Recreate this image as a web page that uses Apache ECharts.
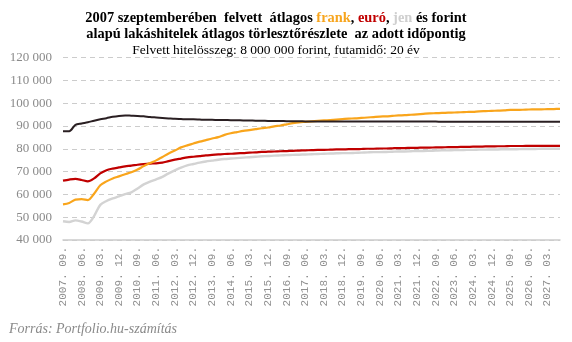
<!DOCTYPE html>
<html>
<head>
<meta charset="utf-8">
<script src="https://cdn.jsdelivr.net/npm/echarts@6/dist/echarts.min.js"></script>
<style>
html,body{margin:0;padding:0;background:#fff;}
#chart{width:572px;height:342px;}
</style>
</head>
<body>
<div id="chart"></div>
<script>
const categories = [
 "2007. 09.","2007. 12.",
 "2008. 03.","2008. 06.","2008. 09.","2008. 12.",
 "2009. 03.","2009. 06.","2009. 09.","2009. 12.",
 "2010. 03.","2010. 06.","2010. 09.","2010. 12.",
 "2011. 03.","2011. 06.","2011. 09.","2011. 12.",
 "2012. 03.","2012. 06.","2012. 09.","2012. 12.",
 "2013. 03.","2013. 06.","2013. 09.","2013. 12.",
 "2014. 03.","2014. 06.","2014. 09.","2014. 12.",
 "2015. 03.","2015. 06.","2015. 09.","2015. 12.",
 "2016. 03.","2016. 06.","2016. 09.","2016. 12.",
 "2017. 03.","2017. 06.","2017. 09.","2017. 12.",
 "2018. 03.","2018. 06.","2018. 09.","2018. 12.",
 "2019. 03.","2019. 06.","2019. 09.","2019. 12.",
 "2020. 03.","2020. 06.","2020. 09.","2020. 12.",
 "2021. 03.","2021. 06.","2021. 09.","2021. 12.",
 "2022. 03.","2022. 06.","2022. 09.","2022. 12.",
 "2023. 03.","2023. 06.","2023. 09.","2023. 12.",
 "2024. 03.","2024. 06.","2024. 09.","2024. 12.",
 "2025. 03.","2025. 06.","2025. 09.","2025. 12.",
 "2026. 03.","2026. 06.","2026. 09.","2026. 12.",
 "2027. 03.","2027. 06.","2027. 09."
];

const frank = [
 55600, 56200, 57700, 57900, 57500, 60300, 64000, 65700, 67000, 67900,
 68800, 69700, 70900, 72400, 73700, 74900, 76400, 77900, 79200, 80600,
 81500, 82300, 83100, 83800, 84500, 85100, 86100, 86800, 87300, 87800,
 88200, 88600, 89000, 89300, 89800, 90200, 90700, 91200, 91600, 91800,
 92000, 92200, 92400, 92600, 92800, 93000, 93200, 93300, 93500, 93700,
 93900, 94100, 94200, 94400, 94600, 94700, 94900, 95100, 95300, 95500,
 95600, 95700, 95800, 95900, 96000, 96100, 96200, 96400, 96500, 96600,
 96700, 96800, 97000, 97050, 97100, 97200, 97250, 97300, 97350, 97400,
 97500
];

const euro = [
 66000, 66500, 66800, 66300, 65700, 67000, 69200, 70600, 71300, 71800,
 72300, 72600, 73000, 73300, 73500, 73600, 73900, 74600, 75200, 75700,
 76200, 76500, 76800, 77100, 77300, 77500, 77700, 77800, 78000, 78100,
 78300, 78400, 78600, 78700, 78800, 78900, 79000, 79100, 79200, 79300,
 79400, 79500, 79500, 79600, 79700, 79700, 79800, 79800, 79900, 80000,
 80000, 80100, 80100, 80200, 80300, 80300, 80400, 80400, 80500, 80500,
 80600, 80600, 80700, 80700, 80800, 80800, 80900, 80900, 81000, 81000,
 81100, 81100, 81200, 81200, 81200, 81300, 81300, 81300, 81300, 81300,
 81300
];

const jen = [
 48200, 47900, 48600, 48100, 47300, 50500, 55400, 57100, 58200, 59100,
 60100, 60900, 62600, 64400, 65600, 66600, 67700, 69200, 70500, 71700,
 72700, 73300, 73900, 74400, 74800, 75200, 75500, 75700, 75900, 76100,
 76300, 76500, 76700, 76800, 77000, 77100, 77200, 77300, 77400, 77500,
 77600, 77700, 77800, 77900, 78000, 78100, 78100, 78200, 78300, 78400,
 78500, 78500, 78600, 78700, 78800, 78800, 78900, 79000, 79000, 79100,
 79200, 79300, 79300, 79400, 79400, 79500, 79500, 79600, 79600, 79700,
 79700, 79800, 79800, 79800, 79900, 79900, 79900, 80000, 80000, 80000,
 80000
];

const forint = [
 87700, 87700, 90500, 91100, 91600, 92300, 92900, 93400, 94000, 94400,
 94600, 94500, 94400, 94200, 93900, 93700, 93500, 93300, 93100, 93000,
 92900, 92900, 92800, 92700, 92700, 92600, 92600, 92500, 92500, 92400,
 92400, 92300, 92300, 92200, 92200, 92200, 92100, 92100, 92100, 92000,
 92000, 92000, 91900, 91900, 91900, 91900, 91900, 91900, 91900, 91900,
 91900, 91900, 91900, 91900, 91900, 91900, 91900, 91900, 91900, 91900,
 91900, 91800, 91800, 91800, 91800, 91800, 91800, 91800, 91800, 91800,
 91800, 91800, 91800, 91800, 91800, 91800, 91800, 91800, 91800, 91800,
 91800
];

const yTicks = [40000, 50000, 60000, 70000, 80000, 90000, 100000, 110000, 120000];

const SERIF = '"Liberation Serif", "DejaVu Serif", serif';
const chart = echarts.init(document.getElementById('chart'), null, {renderer: 'canvas'});

function fmt(v) {
  return String(v).replace(/\B(?=(\d{3})+(?!\d))/g, ' ');
}

function lineSeries(name, data, color, w) {
  return {
    name: name, type: 'line', data: data, showSymbol: false, symbol: 'none',
    smooth: 0.3, lineStyle: {color: color, width: w}, itemStyle: {color: color},
    animation: false
  };
}

chart.setOption({
  animation: false,
  backgroundColor: '#ffffff',
  title: [{
    left: 271, top: 5, textAlign: 'center',
    text: '{b|2007 szeptemberében  felvett  átlagos }{o|frank}{b|, }{r|euró}{b|, }{g|jen}{b| és forint}\n{b|alapú lakáshitelek átlagos törlesztőrészlete  az adott időpontig}',
    textStyle: {
      rich: {
        b: {fontFamily: SERIF, fontWeight: 'bold', fontSize: 14.4, color: '#000', lineHeight: 16},
        o: {fontFamily: SERIF, fontWeight: 'bold', fontSize: 14.4, color: '#F7A51E', lineHeight: 16},
        r: {fontFamily: SERIF, fontWeight: 'bold', fontSize: 14.4, color: '#C00000', lineHeight: 16},
        g: {fontFamily: SERIF, fontWeight: 'bold', fontSize: 14.4, color: '#CFCFCF', lineHeight: 16}
      }
    }
  }, {
    left: 271, top: 38, textAlign: 'center',
    text: 'Felvett hitelösszeg: 8 000 000 forint, futamidő: 20 év',
    textStyle: {fontFamily: SERIF, fontWeight: 'normal', fontSize: 13.5, color: '#000'}
  }, {
    left: 4, top: 317,
    text: 'Forrás: Portfolio.hu-számítás',
    textStyle: {fontFamily: SERIF, fontStyle: 'italic', fontWeight: 'normal', fontSize: 14, color: '#8a8a8a'}
  }],
  grid: {left: 63, right: 12, top: 57.5, bottom: 102, containLabel: false},
  xAxis: {
    type: 'category', data: categories, boundaryGap: false,
    axisLine: {show: true, lineStyle: {color: '#cccccc', width: 1.5}},
    axisTick: {show: false},
    axisLabel: {
      interval: 2, rotate: 90, margin: 7,
      fontFamily: '"Liberation Mono", "DejaVu Sans Mono", monospace',
      fontSize: 11, color: '#909090'
    },
    splitLine: {show: false}
  },
  yAxis: {
    type: 'value', min: yTicks[0], max: yTicks[yTicks.length - 1], interval: 10000,
    axisLine: {show: false}, axisTick: {show: false},
    axisLabel: {
      formatter: fmt, margin: 11,
      fontFamily: SERIF, fontSize: 13, color: '#8a8a8a'
    },
    splitLine: {show: true, lineStyle: {color: '#cccccc', type: [5, 4], width: 1}}
  },
  series: [
    lineSeries('jen', jen, '#D3D3D3', 2.4),
    lineSeries('euró', euro, '#C00000', 2.2),
    lineSeries('frank', frank, '#F9A51C', 2.2),
    lineSeries('forint', forint, '#2A1F22', 2)
  ]
});
</script>
</body>
</html>
